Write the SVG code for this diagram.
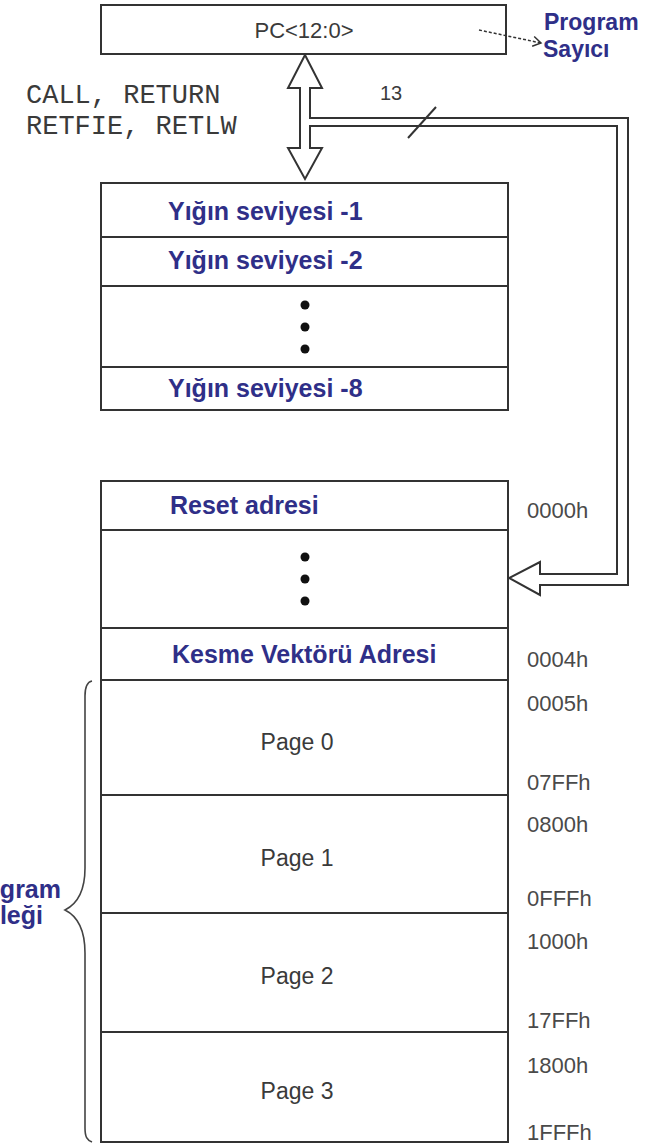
<svg xmlns="http://www.w3.org/2000/svg" width="666" height="1143" viewBox="0 0 666 1143">
  <defs>
    <style>
      .box { fill: #fff; stroke: #333; stroke-width: 2; }
      .div { stroke: #333; stroke-width: 2; }
      .blue { font-family: "Liberation Sans", Arial, sans-serif; font-weight: bold; font-size: 25px; fill: #2f2f88; }
      .plain { font-family: "Liberation Sans", Arial, sans-serif; font-size: 23px; fill: #3a3a3a; }
      .addr { font-family: "Liberation Sans", Arial, sans-serif; font-size: 22px; fill: #4a4a4a; }
      .mono { font-family: "Liberation Mono", "Courier New", monospace; font-size: 27px; fill: #3a3a3a; }
      .dot { fill: #111; }
    </style>
    <marker id="open-head" markerWidth="12" markerHeight="12" refX="10" refY="6" orient="auto" markerUnits="userSpaceOnUse">
      <path d="M2,1 L10,6 L2,11" fill="none" stroke="#333" stroke-width="1.5"/>
    </marker>
  </defs>
  <rect width="666" height="1143" fill="#fff"/>

  <!-- program counter register -->
  <g id="pc">
    <rect class="box" x="101" y="5" width="405" height="49"/>
    <text class="plain" x="304" y="38" text-anchor="middle" style="font-size:22px">PC&lt;12:0&gt;</text>
  </g>

  <g id="pc-label">
    <text class="blue" x="544" y="30" style="font-size:23px">Program</text>
    <text class="blue" x="543" y="57" style="font-size:23px">Sayıcı</text>
  </g>

  <!-- stack levels -->
  <g id="stack">
    <rect class="box" x="101" y="183" width="407" height="227"/>
    <line class="div" x1="101" y1="237" x2="508" y2="237"/>
    <line class="div" x1="101" y1="286" x2="508" y2="286"/>
    <line class="div" x1="101" y1="367" x2="508" y2="367"/>
    <text class="blue" x="168" y="220">Yığın seviyesi -1</text>
    <text class="blue" x="168" y="269">Yığın seviyesi -2</text>
    <circle class="dot" cx="305" cy="305" r="4.5"/>
    <circle class="dot" cx="305" cy="327" r="4.5"/>
    <circle class="dot" cx="305" cy="349" r="4.5"/>
    <text class="blue" x="168" y="397">Yığın seviyesi -8</text>
  </g>

  <!-- program memory map -->
  <g id="program-memory">
    <rect class="box" x="101" y="481" width="407" height="661"/>
    <line class="div" x1="101" y1="530" x2="508" y2="530"/>
    <line class="div" x1="101" y1="628" x2="508" y2="628"/>
    <line class="div" x1="101" y1="680" x2="508" y2="680"/>
    <line class="div" x1="101" y1="795" x2="508" y2="795"/>
    <line class="div" x1="101" y1="913" x2="508" y2="913"/>
    <line class="div" x1="101" y1="1032" x2="508" y2="1032"/>
    <text class="blue" x="170" y="514">Reset adresi</text>
    <circle class="dot" cx="305" cy="557" r="4.5"/>
    <circle class="dot" cx="305" cy="579" r="4.5"/>
    <circle class="dot" cx="305" cy="601" r="4.5"/>
    <text class="blue" x="172" y="663">Kesme Vektörü Adresi</text>
    <text class="plain" x="297" y="750" text-anchor="middle">Page 0</text>
    <text class="plain" x="297" y="866" text-anchor="middle">Page 1</text>
    <text class="plain" x="297" y="984" text-anchor="middle">Page 2</text>
    <text class="plain" x="297" y="1099" text-anchor="middle">Page 3</text>
  </g>

  <!-- addresses -->
  <g id="addresses">
    <text class="addr" x="527" y="518">0000h</text>
    <text class="addr" x="527" y="667">0004h</text>
    <text class="addr" x="527" y="711">0005h</text>
    <text class="addr" x="527" y="790">07FFh</text>
    <text class="addr" x="527" y="832">0800h</text>
    <text class="addr" x="527" y="906">0FFFh</text>
    <text class="addr" x="527" y="949">1000h</text>
    <text class="addr" x="527" y="1028">17FFh</text>
    <text class="addr" x="527" y="1073">1800h</text>
    <text class="addr" x="527" y="1140">1FFFh</text>
  </g>

  <!-- brace and its label -->
  <g id="memory-brace">
    <path d="M92,681 C87,682 85,687 85,696 L85,868 C85,895 75,905 65,910 C75,915 85,925 85,953 L85,1128 C85,1137 87,1140 92,1142" fill="none" stroke="#444" stroke-width="1.6"/>
    <text class="blue" x="61" y="898" text-anchor="end">gram</text>
    <text class="blue" x="43" y="924" text-anchor="end">leği</text>
  </g>

  <!-- instruction label -->
  <g id="instructions">
    <text class="mono" x="26" y="103">CALL, RETURN</text>
    <text class="mono" x="26" y="134">RETFIE, RETLW</text>
  </g>

  <!-- connectors -->
  <g id="connectors">
    <path d="M305,55 L322,88 L310,88 L310,118 L628,118 L628,585 L540,585 L540,595 L509,578 L540,562 L540,574 L617,574 L617,126 L310,126 L310,148 L322,148 L305,179 L288,148 L300,148 L300,88 L288,88 Z" fill="#fff" stroke="#333" stroke-width="2" stroke-linejoin="miter"/>
    <line x1="408" y1="138" x2="436" y2="107" stroke="#333" stroke-width="2"/>
    <text class="plain" x="380" y="100" style="font-size:20px">13</text>
    <line x1="479" y1="30" x2="541" y2="43" stroke="#333" stroke-width="1.5" stroke-dasharray="3 2" marker-end="url(#open-head)"/>
  </g>
</svg>
